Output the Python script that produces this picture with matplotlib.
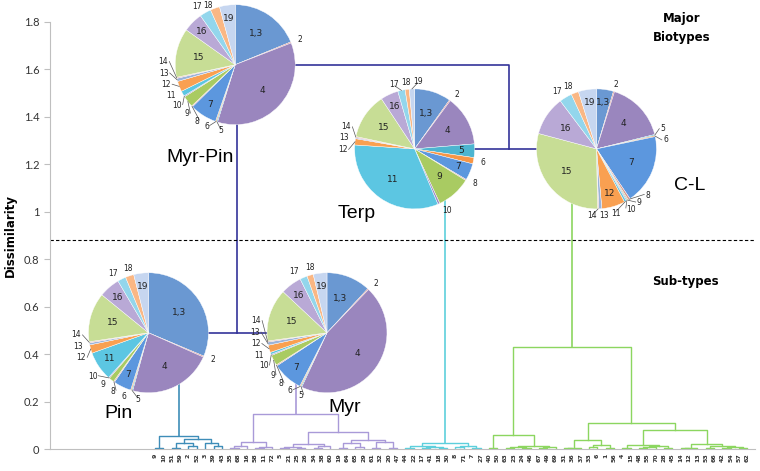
import numpy as np
import matplotlib.pyplot as plt

# leaf order along the x axis
leaf_labels = ['9', '10', '51', '59', '2', '52', '3', '39', '43',
               '35', '68', '16', '58', '11', '72', '5', '21', '25', '26', '34', '38',
               '60', '19', '64', '65', '29', '61', '32', '20', '47',
               '44', '22', '17', '41', '18', '30', '8', '71', '7', '27',
               '40', '50', '63', '23', '24', '46', '67', '49', '69', '31', '36', '37',
               '33', '6', '1', '56', '4', '15', '48', '55', '70', '28', '45', '14',
               '12', '13', '53', '66', '42', '54', '57', '62']

# sub-type trees: [left, right, merge height]
pin_tree = [['9', '10', 0.004],
            [[['51', '59', 0.006], ['2', '52', 0.012], 0.025],
             ['3', ['39', '43', 0.012], 0.026], 0.042],
            0.055]
myr_tree = [[[['35', '68', 0.004], '16', 0.012], [['58', '11', 0.003], '72', 0.008], 0.03],
            [[[['5', '21', 0.003], ['25', '26', 0.006], 0.01], [['34', '38', 0.004], '60', 0.014], 0.02],
             [[['19', '64', 0.004], ['65', '29', 0.01], 0.025], [['61', '32', 0.006], ['20', '47', 0.005], 0.03], 0.038],
             0.072],
            0.148]
terp_tree = [[['44', '22', 0.004], [['17', '41', 0.003], ['18', '30', 0.005], 0.008], 0.012],
             [['8', '71', 0.008], ['7', '27', 0.003], 0.014],
             0.025]
cl_tree = [[['40', '50', 0.005],
            [[['63', '23', 0.003], ['24', '46', 0.005], 0.01], [['67', '49', 0.004], '69', 0.007], 0.013],
            0.06],
           [[[['31', '36', 0.003], '37', 0.006], [['33', '6', 0.01], ['1', '56', 0.004], 0.016], 0.038],
            [[['4', '15', 0.003], [[['48', '55', 0.004], '70', 0.008], ['28', '45', 0.003], 0.012], 0.017],
             [[['14', '12', 0.003], '13', 0.005], [['53', '66', 0.004], [['42', '54', 0.006], ['57', '62', 0.003], 0.01], 0.013], 0.02],
             0.08],
           0.11],
          0.43]
mp_height = 0.49     # Myr + Pin
tc_height = 1.265    # Terp + C-L
root_height = 1.62

# pie compositions
cats = ['1,3', '2', '4', '5', '6', '7', '8', '9', '10', '11', '12', '13', '14',
        '15', '16', '17', '18', '19']
myrpin_vals = [67, 1, 127, 1, 1, 26, 1, 11, 1, 5, 10, 3, 1, 47, 19, 11, 9, 15]
terp_vals = [35, 1, 48, 13, 6, 16, 1, 33, 2, 115, 6, 1, 1, 44, 17, 7, 4, 5]
cl_vals = [16, 1, 57, 1, 1, 66, 2, 1, 1, 2, 22, 3, 1, 103, 37, 12, 7, 17]
pin_vals = [111, 1, 80, 1, 1, 17, 1, 5, 1, 28, 8, 2, 1, 47, 20, 8, 8, 14]
myr_vals = [42, 1, 158, 1, 1, 29, 1, 10, 1, 2, 7, 3, 1, 50, 20, 7, 6, 13]

cat_colors = ['#6A98D2', '#D06F6C', '#9A86BE', '#4DB5D0', '#F79646', '#5C97DE',
              '#D99694', '#A9CB62', '#9E8AC4', '#5CC6E2', '#F9A051', '#9BB3DA',
              '#E0A8A8', '#C7DD95', '#B9A9D6', '#93D6EC', '#FAB784', '#C6D6F0']

navy = '#333399'
pin_col = '#3E8DB8'
myr_col = '#A99AD8'
terp_col = '#5DCFDC'
cl_col = '#8CD660'

fig = plt.figure(figsize=(7.6, 4.71), dpi=100)
ax = fig.add_axes([50 / 760, 22 / 471, 705 / 760, 427 / 471])


def draw(node, color):
    if isinstance(node, str):
        return leaf_labels.index(node), 0.0
    left, right, h = node
    xl, hl = draw(left, color)
    xr, hr = draw(right, color)
    ax.plot([xl, xl, xr, xr], [hl, h, h, hr], color=color, lw=1)
    return (xl + xr) / 2, h


xp, hp = draw(pin_tree, pin_col)
xm, hm = draw(myr_tree, myr_col)
xt, ht = draw(terp_tree, terp_col)
xc, hc = draw(cl_tree, cl_col)

ax.plot([xp, xp], [hp, mp_height], color=pin_col, lw=1.2)
ax.plot([xm, xm], [hm, mp_height], color=myr_col, lw=1.2)
ax.plot([xp, xm], [mp_height, mp_height], color=navy, lw=1.2)
ax.plot([xt, xt], [ht, tc_height], color=terp_col, lw=1.2)
ax.plot([xc, xc], [hc, tc_height], color=cl_col, lw=1.2)
ax.plot([xt, xc], [tc_height, tc_height], color=navy, lw=1.2)
xmp, xtc = (xp + xm) / 2, (xt + xc) / 2
ax.plot([xmp, xmp, xtc, xtc], [mp_height, root_height, root_height, tc_height],
        color=navy, lw=1.2)

ax.axhline(0.88, color='black', ls=(0, (3, 2)), lw=0.8)

ax.set_xlim(-12.6, 71.9)
ax.set_ylim(0, 1.8)
ax.set_yticks(np.arange(0, 1.81, 0.2))
ax.set_yticklabels(['0', '0.2', '0.4', '0.6', '0.8', '1', '1.2', '1.4', '1.6', '1.8'],
                   fontsize=8, color='#333333', family='Lato')
ax.set_xticks(range(len(leaf_labels)))
ax.set_xticklabels(leaf_labels, rotation=90, fontsize=4.5, fontweight='bold', color='#333333')
ax.tick_params(axis='x', length=0, pad=3)
ax.tick_params(axis='y', length=4, color='#BFBFBF', width=0.8)
for s in ['top', 'right']:
    ax.spines[s].set_visible(False)
for s in ['left', 'bottom']:
    ax.spines[s].set_color('#BFBFBF')
ax.set_ylabel('Dissimilarity', fontsize=8.5, fontweight='bold')
ax.yaxis.set_label_coords(-0.047, 0.5)

# overlay in pixel units for the pies and the text
pa = fig.add_axes([0, 0, 1, 1])
pa.axis('off')

pies = [(myrpin_vals, 9.6, root_height),
        (terp_vals, 31.1, tc_height),
        (cl_vals, 52.9, tc_height),
        (pin_vals, -0.8, mp_height),
        (myr_vals, 20.6, mp_height)]
R = 60

for vals, px, py in pies:
    cx, cy = ax.transData.transform((px, py))
    pa.pie(vals, colors=cat_colors, center=(cx, cy), radius=R, startangle=90,
           counterclock=False, frame=True,
           wedgeprops=dict(edgecolor='white', linewidth=0.3))
    tot = float(sum(vals))
    ang = 0.0
    outer = []
    for lab, v in zip(cats, vals):
        a0 = ang
        ang += v / tot * 360
        mid = (a0 + ang) / 2
        if ang - a0 >= 12.5:
            t = np.radians(mid)
            rr = 0.78 * R if ang - a0 < 30 else 0.62 * R
            pa.text(cx + rr * np.sin(t), cy + rr * np.cos(t), lab,
                    ha='center', va='center', fontsize=6.5, color='#222222')
        else:
            outer.append([lab, mid, mid])
    for _ in range(100):
        for k in range(len(outer) - 1):
            d = outer[k + 1][2] - outer[k][2]
            if d < 10:
                s = (10 - d) / 2
                outer[k][2] -= s
                outer[k + 1][2] += s
    for lab, mid, la in outer:
        t0, t1 = np.radians(mid), np.radians(la)
        sx, sy = np.sin(t1), np.cos(t1)
        lx = cx + 1.12 * R * sx
        ly = min(cy + 1.12 * R * sy, 465)
        if abs(la - mid) > 3:
            pa.plot([cx + R * np.sin(t0), cx + 1.1 * R * sx],
                    [cy + R * np.cos(t0), min(cy + 1.1 * R * sy, 465)],
                    color='#555555', lw=0.5)
        ha = 'left' if sx > 0.3 else ('right' if sx < -0.3 else 'center')
        pa.text(lx, ly, lab, ha=ha, va='center', fontsize=5.5, color='#222222')

pa.set_xlim(0, 760)
pa.set_ylim(0, 471)

big = dict(fontsize=14, family='Liberation Sans', ha='center', va='center')
pa.text(200, 471 - 158, 'Myr-Pin', **big)
pa.text(357, 471 - 213, 'Terp', **big)
pa.text(690, 471 - 185, 'C-L', **big)
pa.text(118, 471 - 413, 'Pin', **big)
pa.text(345, 471 - 408, 'Myr', **big)
pa.text(682, 471 - 28, 'Major\nBiotypes', fontsize=8.5, fontweight='bold',
        ha='center', va='center', linespacing=1.6)
pa.text(685, 471 - 282, 'Sub-types', fontsize=8.5, fontweight='bold',
        ha='center', va='center')

fig.savefig('out.png', dpi=100)
